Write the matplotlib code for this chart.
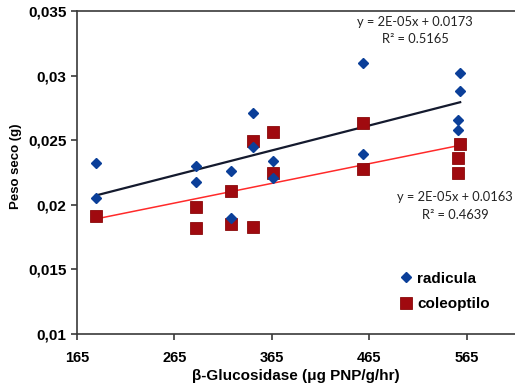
import matplotlib
matplotlib.use("Agg")
import matplotlib.pyplot as plt
import numpy as np
from matplotlib.ticker import FuncFormatter, MultipleLocator

# beta-glucosidase activity (x) and dry weight (y)
radicula_x = [184.5, 184.5, 287, 287, 323, 323, 345.5, 345.5, 366, 366, 458, 458, 558, 558, 556, 556]
radicula_y = [0.0232, 0.0205, 0.0230, 0.0218, 0.0226, 0.0190, 0.0271, 0.0245, 0.0234, 0.0221,
              0.0310, 0.0239, 0.0302, 0.0288, 0.0266, 0.0258]

coleoptilo_x = [184.5, 287, 287, 323, 323, 345.5, 345.5, 366, 366, 458, 458, 558, 556, 556]
coleoptilo_y = [0.0191, 0.0198, 0.0182, 0.0211, 0.0185, 0.0249, 0.0183, 0.0256, 0.0225,
                0.0263, 0.0228, 0.0247, 0.0236, 0.0225]

x_ticks = [165, 265, 365, 465, 565]

eq_radicula = ["y = 2E-05x + 0.0173", "R² = 0.5165"]
eq_coleoptilo = ["y = 2E-05x + 0.0163", "R² = 0.4639"]

BLUE = "#0B3F99"
RED = "#A00A0F"

plt.rcParams["font.family"] = ["Liberation Sans", "DejaVu Sans"]

fig = plt.figure(figsize=(5.15, 3.87), dpi=100)
ax = fig.add_axes([77 / 515, 53 / 387, 438 / 515, 323 / 387])


def trend(x, y):
    x = np.asarray(x, dtype=float)
    y = np.asarray(y, dtype=float)
    m, b = np.polyfit(x, y, 1)
    xs = np.array([x.min(), x.max()])
    return xs, m * xs + b


tx, ty = trend(radicula_x, radicula_y)
ax.plot(tx, ty, color="#141A2E", linewidth=1.6, zorder=2)
tx, ty = trend(coleoptilo_x, coleoptilo_y)
ax.plot(tx, ty, color="#FF2A2A", linewidth=1.1, zorder=2)

ax.plot(coleoptilo_x, coleoptilo_y, linestyle="none", marker="s", markersize=8.2,
        color=RED, markeredgecolor="#8A0A0A", markeredgewidth=0.6, label="coleoptilo", zorder=3)
ax.plot(radicula_x, radicula_y, linestyle="none", marker="D", markersize=5.3,
        color=BLUE, markeredgecolor=BLUE, label="radicula", zorder=4)

ax.set_xlim(165, 165 + 438 / 0.975)
ax.set_ylim(0.01, 0.035)
ax.set_xticks(x_ticks)
ax.yaxis.set_major_locator(MultipleLocator(0.005))
ax.yaxis.set_major_formatter(FuncFormatter(lambda v, p: f"{v:g}".replace(".", ",")))

for side in ["left", "bottom", "top"]:
    ax.spines[side].set_color("#3a3a3a")
    ax.spines[side].set_linewidth(1.2)
ax.spines["right"].set_visible(False)
ax.tick_params(direction="out", length=4, width=1.2, color="#3a3a3a", labelsize=10.5)
ax.tick_params(axis="x", pad=8)
ax.tick_params(axis="y", labelsize=11)
for lbl in ax.get_xticklabels() + ax.get_yticklabels():
    lbl.set_fontweight("bold")

ax.set_ylabel("Peso seco (g)", fontsize=9.5, fontweight="bold")
ax.yaxis.set_label_coords(-0.125, 0.52)
ax.set_xlabel("β-Glucosidase (μg PNP/g/hr)", fontsize=11, fontweight="bold", labelpad=3)

eq_font = dict(fontsize=9.3, family=["Lato", "DejaVu Sans"], ha="center", va="center", color="#222222")
ax.text(512, 0.03415, eq_radicula[0], **eq_font)
ax.text(512, 0.03283, eq_radicula[1], **eq_font)
ax.text(553, 0.0206, eq_coleoptilo[0], **eq_font)
ax.text(553, 0.0192, eq_coleoptilo[1], **eq_font)

handles, labels = ax.get_legend_handles_labels()
ax.legend(handles[::-1], labels[::-1], loc="upper left", bbox_to_anchor=(0.71, 0.235),
          frameon=False, handlelength=0.6, handletextpad=0.4, labelspacing=0.75,
          prop={"weight": "bold", "size": 11})

fig.savefig("out.png", dpi=100)
